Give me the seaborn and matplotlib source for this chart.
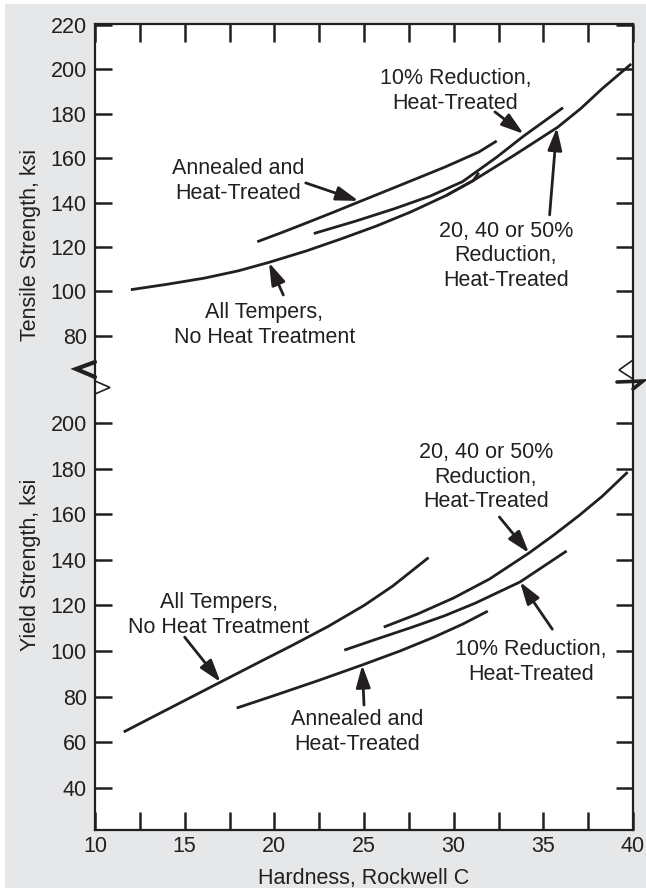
import matplotlib
matplotlib.use("Agg")
import matplotlib.pyplot as plt
import seaborn as sns
import pandas as pd
from matplotlib.patches import Rectangle
from matplotlib.lines import Line2D

sns.set_theme(style="white")
plt.rcParams["font.family"] = ["Liberation Sans", "DejaVu Sans"]

INK = "#231f20"
BG = "#e6e7e8"

# ---------------- data (Hardness Rockwell C vs strength, ksi) ----------------
# Tensile strength
ts_annealed_x = [19.05, 20.5, 21.8, 23.3, 24.7, 27.0, 29.5, 31.4, 32.4]
ts_annealed_y = [122.4, 126.8, 130.9, 135.7, 140.3, 147.8, 156.0, 162.8, 167.8]
ts_10pct_x = [22.2, 24.5, 26.7, 28.7, 30.5, 32.4, 33.9, 36.1]
ts_10pct_y = [126.1, 131.6, 137.3, 143.0, 149.5, 160.5, 170.0, 182.8]
ts_2040_x = [29.6, 31.1, 33.4, 35.8, 37.1, 38.3, 39.9]
ts_2040_y = [143.3, 150.0, 161.5, 174.0, 182.5, 191.5, 202.5]
ts_all_x = [12.0, 14.0, 16.1, 18.0, 19.7, 21.8, 23.8, 25.7, 27.6, 29.6, 31.1, 31.4]
ts_all_y = [100.8, 103.2, 106.0, 109.3, 113.1, 118.3, 123.9, 129.5, 135.8, 143.3, 150.0, 153.5]

# Yield strength
ys_all_x = [11.6, 13.0, 15.0, 17.0, 19.0, 21.0, 23.0, 25.0, 26.6, 28.6]
ys_all_y = [64.5, 70.2, 78.3, 86.4, 94.5, 102.5, 110.8, 120.0, 128.5, 141.0]
ys_2040_x = [26.1, 28.0, 30.0, 32.0, 34.2, 35.6, 37.0, 38.3, 39.7]
ys_2040_y = [110.5, 116.3, 123.3, 131.6, 143.0, 151.0, 159.5, 168.0, 178.5]
ys_10pct_x = [23.9, 25.8, 27.7, 29.5, 31.2, 33.7, 36.3]
ys_10pct_y = [100.4, 105.5, 110.5, 115.5, 121.0, 130.3, 143.9]
ys_annealed_x = [17.9, 20.0, 22.5, 24.9, 27.0, 28.9, 30.5, 31.9]
ys_annealed_y = [75.0, 80.5, 87.2, 93.9, 100.0, 106.1, 111.8, 117.5]

x_major = [10, 15, 20, 25, 30, 35, 40]
x_minor = [12.5, 17.5, 22.5, 27.5, 32.5, 37.5]
ts_ticks = [80, 100, 120, 140, 160, 180, 200, 220]
ys_ticks = [40, 60, 80, 100, 120, 140, 160, 180, 200]

label_annealed = "Annealed and\nHeat-Treated"
label_10 = "10% Reduction,\nHeat-Treated"
label_2040 = "20, 40 or 50%\nReduction,\nHeat-Treated"
label_all = "All Tempers,\nNo Heat Treatment"

# ---------------- figure ----------------
W, H = 646, 888
fig = plt.figure(figsize=(W / 100, H / 100), dpi=100)
fig.patch.set_facecolor("white")
fig.patches.append(Rectangle((5 / W, 0), 1, (H - 4) / H, transform=fig.transFigure,
                             facecolor=BG, edgecolor="none", zorder=-10))


def rect(l, t, r, b):
    return [l / W, 1 - b / H, (r - l) / W, (b - t) / H]


ax1 = fig.add_axes(rect(95, 24, 633, 380))
ax2 = fig.add_axes(rect(95, 380, 633, 830))

FS = 15.5
LW = 2.0


def curve(ax, xs, ys):
    df = pd.DataFrame({"x": xs, "y": ys})
    sns.lineplot(data=df, x="x", y="y", ax=ax, color=INK, lw=LW, sort=False,
                 estimator=None, solid_capstyle="butt", solid_joinstyle="round")


for xs, ys in [(ts_annealed_x, ts_annealed_y), (ts_10pct_x, ts_10pct_y),
               (ts_2040_x, ts_2040_y), (ts_all_x, ts_all_y)]:
    curve(ax1, xs, ys)
for xs, ys in [(ys_all_x, ys_all_y), (ys_2040_x, ys_2040_y),
               (ys_10pct_x, ys_10pct_y), (ys_annealed_x, ys_annealed_y)]:
    curve(ax2, xs, ys)

for ax in (ax1, ax2):
    ax.set_facecolor("white")
    ax.set_xlim(10, 40)
    ax.set_xlabel("")
    ax.set_ylabel("")
    for s in ax.spines.values():
        s.set_color(INK)
        s.set_linewidth(1.6)

ax1.spines["bottom"].set_visible(False)
ax2.spines["top"].set_visible(False)

ax1.set_ylim(60.1, 220.5)
ax2.set_ylim(21.5, 218.9)

# x ticks
ax1.set_xticks(x_major)
ax1.set_xticks(x_minor, minor=True)
ax1.tick_params(axis="x", which="both", direction="in", length=13, width=1.8,
                color=INK, top=True, bottom=False, labeltop=False, labelbottom=False)
ax2.set_xticks(x_major)
ax2.set_xticklabels([str(v) for v in x_major])
ax2.set_xticks(x_minor, minor=True)
ax2.tick_params(axis="x", which="both", direction="in", length=13, width=1.8,
                color=INK, top=False, bottom=True, labelsize=FS, labelcolor=INK, pad=4)

# y ticks
ax1.set_yticks(ts_ticks)
ax1.set_yticklabels([str(v) for v in ts_ticks])
ax2.set_yticks(ys_ticks)
ax2.set_yticklabels([str(v) for v in ys_ticks])
for ax in (ax1, ax2):
    ax.tick_params(axis="y", which="both", direction="in", length=12, width=1.8,
                   color=INK, left=True, right=True, labelleft=True,
                   labelsize=FS, labelcolor=INK, pad=6)

ax1.set_ylabel("Tensile Strength, ksi", fontsize=FS, color=INK)
ax1.yaxis.set_label_coords((41 - 95) / 538, (380 - 245) / 356)
ax2.set_ylabel("Yield Strength, ksi", fontsize=FS, color=INK)
ax2.yaxis.set_label_coords((41 - 95) / 538, (830 - 565) / 450)
ax2.set_xlabel("Hardness, Rockwell C", fontsize=FS, color=INK, labelpad=8)

# ---------------- annotations ----------------
ARROW = dict(arrowstyle="-|>,head_length=0.75,head_width=0.24", color=INK, lw=2,
             mutation_scale=18, shrinkA=0, shrinkB=0)


def note(ax, text, tx, ty, tail, tip):
    ax.text(tx, ty, text, ha="center", va="center", fontsize=FS, color=INK,
            linespacing=1.2)
    ax.annotate("", xy=tip, xytext=tail, arrowprops=ARROW)


note(ax1, label_10, 30.1, 190.3, (32.3, 180.9), (33.9, 171.0))
note(ax1, label_annealed, 18.0, 149.8, (21.75, 148.9), (24.7, 140.8))
note(ax1, label_2040, 32.9, 116.0, (35.35, 134.5), (35.75, 173.8))
note(ax1, label_all, 19.45, 84.9, (20.5, 98.4), (19.7, 113.0))

note(ax2, label_2040, 31.8, 176.3, (32.55, 158.8), (34.2, 143.0))
note(ax2, label_all, 16.9, 115.8, (15.0, 106.1), (17.0, 86.4))
note(ax2, label_10, 34.3, 95.2, (35.5, 109.6), (33.7, 130.3))
note(ax2, label_annealed, 24.6, 64.5, (25.0, 76.3), (24.9, 93.9))

# ---------------- axis break marks ----------------
def fig_line(pts, lw):
    xs = [p[0] / W for p in pts]
    ys = [1 - p[1] / H for p in pts]
    fig.add_artist(Line2D(xs, ys, transform=fig.transFigure, color=INK, lw=lw,
                          solid_joinstyle="miter", zorder=10))


fig_line([(95, 362), (76, 369), (95, 377)], 3.0)
fig_line([(95, 381), (110, 387.5), (95, 394)], 1.2)
fig_line([(633, 360), (619, 370), (633, 379)], 1.2)
fig_line([(617, 382), (643, 381), (633, 389)], 2.6)

fig.savefig("out.png", dpi=100, facecolor=fig.get_facecolor())
